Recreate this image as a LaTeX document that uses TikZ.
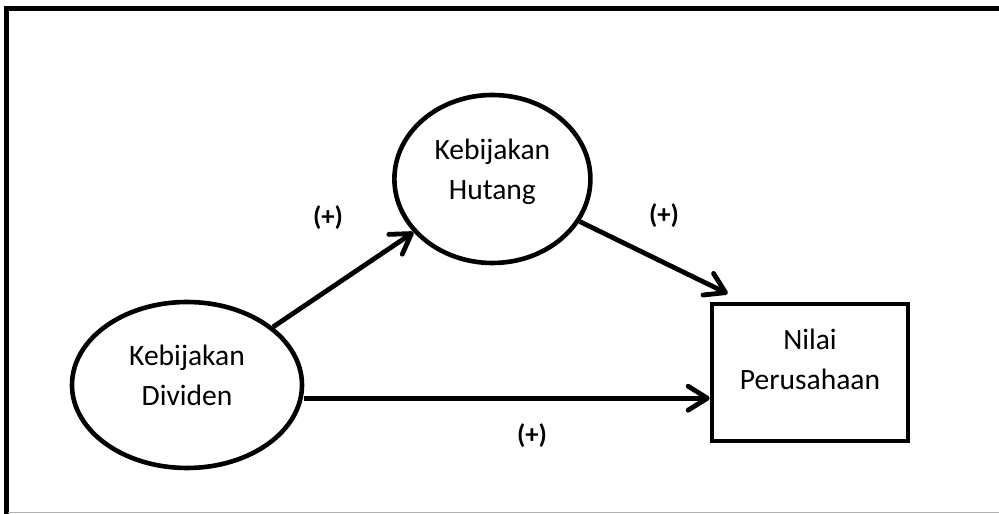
\documentclass[tikz,border=0pt]{standalone}
\usepackage{fontspec}
\setmainfont{Carlito}
\usetikzlibrary{shapes.geometric,arrows.meta}

\tikzset{
  teks/.style={font=\fontsize{21}{28.45}\selectfont, align=center},
  elips/.style={teks, ellipse, draw, line width=0.115cm, inner sep=0pt, text depth=0.5cm},
  kotak/.style={teks, rectangle, draw, line width=0.115cm, inner sep=0pt, text depth=0.675cm},
  tanda/.style={font=\fontsize{19}{22}\selectfont\bfseries},
  panah/.style={line width=0.12cm, -{Straight Barb[length=4.8mm, width=6mm, round]}}
}

\begin{document}
\begin{tikzpicture}
        \useasboundingbox (0,0) rectangle (24.975,12.85);
        \clip (0,0) rectangle (24.975,12.85);
        % ==== FRAME ====
        \draw[line width=0.13cm] (25.5,12.64) -- (0.16,12.64) -- (0.16,-0.5);
        \draw[gray!60, line width=0.6pt] (0.2,0.03) -- (25.5,0.03);

        % ==== VARIABLES ====
        \node[elips, minimum width=5.75cm, minimum height=4.15cm] (div) at (4.675,3.225) {Kebijakan\\Dividen};
        \node[elips, minimum width=4.9cm, minimum height=4.2cm] (hut) at (12.31,8.375) {Kebijakan\\Hutang};
        \node[kotak, minimum width=4.9cm, minimum height=3.425cm] (nil) at (20.25,3.5375) {Nilai\\Perusahaan};

        % ==== ARROWS ====
        \draw[panah] (div) -- (hut);
        \draw[panah] (hut) -- ([shift={(0.45,0.2)}]nil.north west);
        \coordinate (awal) at ([yshift=-0.33cm]div.east);
        \draw[panah] (awal) -- (awal -| nil.west);

        % ==== SIGNS ====
        \node[tanda] (t1) at (8.2,7.4) {(+)};
        \node[tanda] (t2) at (16.6,7.45) {(+)};
        \node[tanda] (t3) at (13.3,1.95) {(+)};
\end{tikzpicture}
\end{document}
